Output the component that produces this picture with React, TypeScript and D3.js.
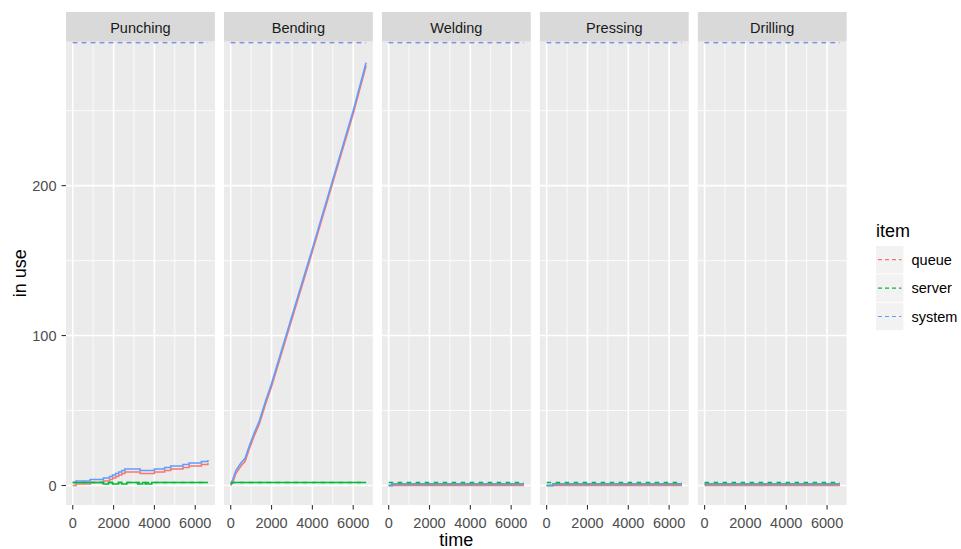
import React, { useEffect, useRef } from 'react';
import * as d3 from 'd3';

// facets and legend items
const stations = ['Punching', 'Bending', 'Welding', 'Pressing', 'Drilling'];
const items = ['queue', 'server', 'system'];
const itemColors = ['#F8766D', '#00BA38', '#619CFF'];

// Punching
const punchingTime = [0, 160, 850, 1500, 1650, 1750, 1800, 1950, 2100, 2240, 2250, 2400, 2550, 2650, 2700, 3000, 3180, 3300, 3420, 3550, 3800, 3870, 4000, 4200, 4500, 4800, 5100, 5400, 5700, 6000, 6300, 6620];
const punchingSystem = [2, 3, 4, 5, 5, 5, 6, 7, 8, 8, 9, 10, 11, 11, 11, 11, 11, 10, 10, 10, 10, 10, 11, 11, 12, 13, 13, 14, 15, 15, 16, 17];
const punchingServer = [2, 2, 2, 1, 1, 2, 2, 1, 1, 2, 2, 1, 1, 2, 2, 2, 1, 1, 2, 1, 1, 2, 2, 2, 2, 2, 2, 2, 2, 2, 2, 2];
const punchingQueue = [0, 1, 2, 3, 3, 3, 4, 5, 6, 6, 7, 8, 9, 9, 9, 9, 9, 8, 8, 8, 8, 8, 9, 9, 10, 11, 11, 12, 13, 13, 14, 15];

// Bending
const bendingTime = [0, 100, 250, 500, 700, 900, 1150, 1400, 1700, 2000, 3000, 4000, 5000, 6000, 6630];
const bendingSystem = [1, 4, 10, 15, 18, 26, 35, 43, 56, 68, 113, 158, 204, 250, 282];
const bendingServer = [1, 2, 2, 2, 2, 2, 2, 2, 2, 2, 2, 2, 2, 2, 2];
const bendingQueue = [0, 2, 8, 13, 16, 24, 33, 41, 54, 66, 111, 156, 202, 248, 280];

// Welding
const weldingTime = [0, 165, 6630];
const weldingSystem = [0, 1, 1];
const weldingServer = [0, 1, 1];
const weldingQueue = [0, 0, 0];

// Pressing
const pressingTime = [0, 300, 6630];
const pressingSystem = [0, 1, 1];
const pressingServer = [0, 1, 1];
const pressingQueue = [0, 0, 0];

// Drilling
const drillingTime = [0, 6630];
const drillingSystem = [1, 1];
const drillingServer = [1, 1];
const drillingQueue = [0, 0];

// server capacity per station (queue size is infinite)
const capacity = [2, 2, 2, 2, 2];
const stepped = [true, false, true, true, true];

const xTicks = [0, 2000, 4000, 6000];
const xMinor = [1000, 3000, 5000];
const yTicks = [0, 100, 200];
const yMinor = [50, 150, 250];
const xRange = [-331, 6961];
const yRange = [-13, 296];

const FONT = '"Liberation Sans", Arial, sans-serif';

const App: React.FC = () => {
  const svgRef = useRef<SVGSVGElement>(null);

  useEffect(() => {
    if (!svgRef.current) return;
    const svg = d3.select(svgRef.current);
    svg.selectAll('*').remove();

    const data = [
      { time: punchingTime, series: [punchingQueue, punchingServer, punchingSystem] },
      { time: bendingTime, series: [bendingQueue, bendingServer, bendingSystem] },
      { time: weldingTime, series: [weldingQueue, weldingServer, weldingSystem] },
      { time: pressingTime, series: [pressingQueue, pressingServer, pressingSystem] },
      { time: drillingTime, series: [drillingQueue, drillingServer, drillingSystem] },
    ];

    const left = 66, right = 846.7, gap = 9.1;
    const stripTop = 12, top = 41.7, bottom = 505;
    const pw = (right - left - gap * (stations.length - 1)) / stations.length;

    const y = d3.scaleLinear().domain(yRange).range([bottom, top]);

    // y axis
    yTicks.forEach(t => {
      svg.append('line').attr('x1', left - 4.5).attr('x2', left)
        .attr('y1', y(t)).attr('y2', y(t)).attr('stroke', '#333333').attr('stroke-width', 1.1);
      svg.append('text').attr('x', left - 9.5).attr('y', y(t)).attr('dy', '0.35em')
        .attr('text-anchor', 'end').attr('font-family', FONT).attr('font-size', 14.5)
        .attr('fill', '#4D4D4D').text(t);
    });
    svg.append('text')
      .attr('transform', `translate(26,${(top + bottom) / 2}) rotate(-90)`)
      .attr('text-anchor', 'middle').attr('font-family', FONT).attr('font-size', 18)
      .attr('fill', '#000').text('in use');

    stations.forEach((name, i) => {
      const x0 = left + i * (pw + gap);
      const x = d3.scaleLinear().domain(xRange).range([x0, x0 + pw]);
      const g = svg.append('g');

      // strip
      g.append('rect').attr('x', x0).attr('y', stripTop).attr('width', pw).attr('height', top - stripTop)
        .attr('fill', '#D9D9D9');
      g.append('text').attr('x', x0 + pw / 2).attr('y', (stripTop + top) / 2 + 0.8).attr('dy', '0.35em')
        .attr('text-anchor', 'middle').attr('font-family', FONT).attr('font-size', 14.5)
        .attr('fill', '#1A1A1A').text(name);

      // panel
      g.append('rect').attr('x', x0).attr('y', top).attr('width', pw).attr('height', bottom - top)
        .attr('fill', '#EBEBEB');
      const clipId = `clip-${i}`;
      svg.append('clipPath').attr('id', clipId).append('rect')
        .attr('x', x0).attr('y', top).attr('width', pw).attr('height', bottom - top);

      yMinor.forEach(t => g.append('line').attr('x1', x0).attr('x2', x0 + pw).attr('y1', y(t)).attr('y2', y(t))
        .attr('stroke', '#fff').attr('stroke-width', 0.8));
      xMinor.forEach(t => g.append('line').attr('x1', x(t)).attr('x2', x(t)).attr('y1', top).attr('y2', bottom)
        .attr('stroke', '#fff').attr('stroke-width', 0.8));
      yTicks.forEach(t => g.append('line').attr('x1', x0).attr('x2', x0 + pw).attr('y1', y(t)).attr('y2', y(t))
        .attr('stroke', '#fff').attr('stroke-width', 1.6));
      xTicks.forEach(t => g.append('line').attr('x1', x(t)).attr('x2', x(t)).attr('y1', top).attr('y2', bottom)
        .attr('stroke', '#fff').attr('stroke-width', 1.6));

      // x axis
      xTicks.forEach(t => {
        svg.append('line').attr('x1', x(t)).attr('x2', x(t)).attr('y1', bottom).attr('y2', bottom + 4.5)
          .attr('stroke', '#333333').attr('stroke-width', 1.1);
        svg.append('text').attr('x', x(t)).attr('y', 527.5).attr('text-anchor', 'middle')
          .attr('font-family', FONT).attr('font-size', 14.5).attr('fill', '#4D4D4D').text(t);
      });

      const plot = g.append('g').attr('clip-path', `url(#${clipId})`);
      const d = data[i];
      const line = d3.line<number>()
        .x((_, k) => x(d.time[k]))
        .y(v => y(v))
        .curve(stepped[i] ? d3.curveStepAfter : d3.curveLinear);

      d.series.forEach((vals, k) => {
        plot.append('path').attr('d', line(vals)).attr('fill', 'none')
          .attr('stroke', itemColors[k]).attr('stroke-width', 1.6);
      });

      // limits: queue & system infinite -> panel top, server = capacity
      const tEnd = d.time[d.time.length - 1];
      const limits = [Infinity, capacity[i], Infinity];
      limits.forEach((lim, k) => {
        const yy = isFinite(lim) ? y(lim) : top + 0.8;
        plot.append('line').attr('x1', x(0)).attr('x2', x(tEnd)).attr('y1', yy).attr('y2', yy)
          .attr('stroke', itemColors[k]).attr('stroke-width', 1.6).attr('stroke-dasharray', '4.5,4.5');
      });
    });

    svg.append('text').attr('x', (left + right) / 2).attr('y', 546).attr('text-anchor', 'middle')
      .attr('font-family', FONT).attr('font-size', 18).attr('fill', '#000').text('time');

    // legend
    const lx = 876, ly = 246, ks = 28.4;
    svg.append('text').attr('x', lx).attr('y', 237).attr('font-family', FONT).attr('font-size', 18)
      .attr('fill', '#000').text('item');
    items.forEach((it, k) => {
      const yy = ly + k * ks;
      svg.append('rect').attr('x', lx).attr('y', yy).attr('width', 27.4).attr('height', ks - 1)
        .attr('fill', '#F2F2F2');
      svg.append('line').attr('x1', lx + 2).attr('x2', lx + 25.4).attr('y1', yy + (ks - 1) / 2).attr('y2', yy + (ks - 1) / 2)
        .attr('stroke', itemColors[k]).attr('stroke-width', 1.2).attr('stroke-dasharray', '4,3');
      svg.append('text').attr('x', 911.5).attr('y', yy + (ks - 1) / 2).attr('dy', '0.35em')
        .attr('font-family', FONT).attr('font-size', 14.5).attr('fill', '#000').text(it);
    });
  }, []);

  return (
    <svg ref={svgRef} width={961} height={549}
      style={{ position: 'absolute', left: 0, top: 0, background: '#fff' }} />
  );
};

export default App;
